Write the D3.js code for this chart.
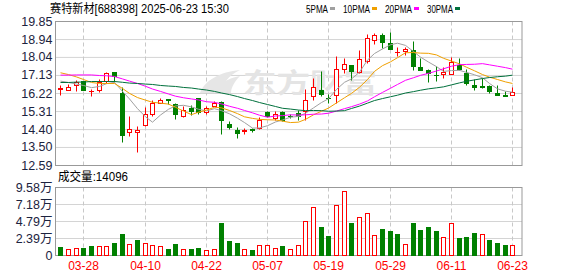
<!DOCTYPE html>
<html>
<head>
<meta charset="utf-8">
<script src="https://cdn.jsdelivr.net/npm/d3@7/dist/d3.min.js"></script>
<style>
body { margin: 0; background: #fff; }
svg text { font-family: "Liberation Sans", Arial, "Noto Sans CJK SC", sans-serif; }
</style>
</head>
<body>
<div id="chart"></div>
<script>
// data
const dates = ['03-25','03-26','03-27','03-28','03-31','04-01','04-02','04-03','04-07','04-08',
  '04-09','04-10','04-11','04-14','04-15','04-16','04-17','04-18','04-21','04-22',
  '04-23','04-24','04-25','04-28','04-29','04-30','05-06','05-07','05-08','05-09',
  '05-12','05-13','05-14','05-15','05-16','05-19','05-20','05-21','05-22','05-23',
  '05-26','05-27','05-28','05-29','05-30','06-03','06-04','06-05','06-06','06-09',
  '06-10','06-11','06-12','06-13','06-16','06-17','06-18','06-19','06-20','06-23']

const opens = [16.44,16.38,16.61,16.81,16.30,16.36,16.80,17.27,16.23,14.26,
  14.26,14.60,15.14,15.73,15.92,15.69,15.05,15.46,15.98,15.25,
  15.55,15.79,14.68,14.34,14.30,14.38,14.46,15.24,14.97,15.24,
  15.08,15.19,15.33,16.06,16.35,15.98,16.14,17.44,17.61,17.29,
  17.82,18.88,19.12,18.75,18.27,18.33,18.41,17.52,17.40,17.15,
  17.20,17.19,17.61,17.24,16.60,16.55,16.55,16.23,16.12,16.11]

const highs = [16.63,16.68,16.87,16.82,16.43,16.94,17.26,17.28,16.53,15.05,
  14.58,15.50,15.86,15.99,15.94,15.73,15.55,15.64,15.98,15.55,
  15.81,15.80,14.80,14.53,14.47,14.46,15.01,15.30,15.29,15.30,
  15.17,15.34,16.40,16.99,17.35,16.15,18.07,17.99,17.62,18.41,
  19.20,19.22,19.26,19.29,18.55,18.55,18.83,17.99,17.42,17.56,
  17.53,18.05,17.99,17.44,16.93,16.99,16.63,16.60,16.31,16.50]

const lows = [16.13,16.35,16.31,16.36,16.06,16.26,16.72,16.75,13.74,14.04,
  13.23,14.58,15.05,15.70,15.68,14.93,15.03,15.11,15.14,15.14,
  15.55,14.15,14.40,13.95,14.15,14.25,14.42,15.02,14.88,14.80,
  14.97,14.88,14.88,15.89,16.05,15.73,15.73,17.25,16.90,17.25,
  17.74,18.70,18.50,18.44,18.11,18.16,17.40,17.36,16.77,16.85,
  16.99,17.18,17.40,16.60,16.36,16.45,16.20,16.10,16.06,16.10]

const closes = [16.47,16.53,16.76,16.36,16.33,16.76,17.24,17.10,14.08,14.40,
  14.35,15.17,15.73,15.89,15.87,15.17,15.35,15.31,15.28,15.47,
  15.73,14.86,14.50,14.21,14.36,14.34,14.88,15.07,15.17,14.85,
  15.04,15.06,15.89,16.53,16.19,15.96,17.44,17.69,17.35,17.91,
  19.00,19.12,18.80,18.44,18.30,18.45,17.57,17.37,17.22,17.12,
  17.27,17.77,17.42,16.73,16.50,16.52,16.31,16.11,16.09,16.26]

const prevClose = 16.52  // close of the day before 03-25

const volumes = [11500,8700,10000,10500,12800,12800,12800,17500,30000,15700,
  21700,17000,13700,12800,9100,16000,8700,9100,10500,7700,
  8700,45500,20300,17500,8700,7700,14300,14300,10000,13300,
  8700,14300,47800,67400,39900,27300,70600,89800,44500,53400,
  59400,28200,37100,33300,30000,15700,45500,35700,39900,34300,
  25500,45500,24500,25900,31500,29700,21700,17500,14700,14096]

const ma5 = [16.82,16.75,16.67,16.60,16.49,16.55,16.69,16.76,16.30,15.92,
  15.43,15.02,14.75,15.11,15.40,15.57,15.60,15.52,15.40,15.32,
  15.43,15.33,15.17,14.95,14.73,14.45,14.46,14.57,14.76,14.86,
  15.00,15.04,15.20,15.47,15.74,15.93,16.40,16.76,16.93,17.27,
  17.88,18.21,18.44,18.65,18.73,18.62,18.31,18.03,17.78,17.55,
  17.31,17.35,17.36,17.26,17.14,16.99,16.70,16.43,16.31,16.26]

const ma10 = [17.24,17.15,17.03,16.90,16.75,16.70,16.70,16.70,16.45,16.20,
  15.99,15.86,15.75,15.71,15.66,15.50,15.31,15.13,15.25,15.36,
  15.50,15.47,15.34,15.18,15.02,14.94,14.89,14.87,14.86,14.80,
  14.73,14.75,14.89,15.12,15.30,15.46,15.72,15.98,16.20,16.51,
  16.90,17.31,17.60,17.79,18.00,18.25,18.26,18.23,18.22,18.14,
  17.97,17.83,17.69,17.52,17.34,17.15,17.02,16.90,16.78,16.70]

const ma20 = [17.12,17.12,17.13,17.13,17.13,17.10,17.09,17.05,16.93,16.82,
  16.70,16.56,16.42,16.30,16.17,16.06,15.98,15.92,15.87,15.78,
  15.75,15.67,15.55,15.45,15.34,15.22,15.10,15.00,15.06,15.08,
  15.12,15.11,15.12,15.15,15.16,15.20,15.31,15.43,15.53,15.66,
  15.82,16.03,16.25,16.46,16.65,16.86,16.99,17.11,17.21,17.33,
  17.44,17.57,17.65,17.66,17.67,17.70,17.64,17.57,17.50,17.42]

const ma30 = [16.75,16.75,16.77,16.77,16.80,16.80,16.80,16.80,16.76,16.72,
  16.70,16.67,16.65,16.60,16.57,16.55,16.50,16.47,16.42,16.37,
  16.30,16.22,16.14,16.04,15.94,15.84,15.74,15.64,15.54,15.45,
  15.41,15.36,15.33,15.34,15.33,15.30,15.31,15.33,15.44,15.56,
  15.71,15.84,15.94,16.03,16.11,16.22,16.29,16.36,16.43,16.48,
  16.53,16.63,16.73,16.81,16.88,16.95,17.00,17.04,17.07,17.12]

const priceTicks = [12.59, 13.50, 14.40, 15.31, 16.22, 17.13, 18.04, 18.94, 19.85]
const volTicks = [0, 23950, 47900, 71850, 95800]
const volTickLabels = ['0', '2.39万', '4.79万', '7.18万', '9.58万']
const dateTicks = ['03-28', '04-10', '04-22', '05-07', '05-19', '05-29', '06-11', '06-23']

const maNames = ['5PMA', '10PMA', '20PMA', '30PMA']
const maColors = ['#a0a0a0', '#f0a000', '#ff00ff', '#00703c']

// constants
const width = 578, height = 276
const left = 55.5, right = 522
const priceTop = 21, priceBottom = 165
const volTop = 187, volBottom = 255
const red = '#ff0000', green = '#008000'
const gridColor = '#d4d4d4', borderColor = '#999'
const labelColor = '#1c2340'

const svg = d3.select('#chart')
  .append('svg')
    .attr('width', width)
    .attr('height', height)

svg.append('rect').attr('width', width).attr('height', height).attr('fill', '#fff')

const x = d3.scaleBand()
  .domain(dates)
  .range([56.5, 516.1])
const cx = d => Math.round(x(d) + x.bandwidth() / 2) + 0.5

const y = d3.scaleLinear().domain([12.59, 19.85]).range([priceBottom, priceTop])
const vy = d3.scaleLinear().domain([0, 95800]).range([volBottom, volTop])

// horizontal grids with labels
function styleAxis(g) {
  g.select('.domain').remove()
  g.selectAll('.tick line').attr('stroke', gridColor)
  g.selectAll('.tick text')
    .attr('fill', labelColor)
    .style('font-size', '12.5px')
}

svg.append('g')
  .attr('transform', `translate(${left},0)`)
  .call(d3.axisLeft(y)
    .tickValues(priceTicks)
    .tickSize(-(right - left))
    .tickPadding(3)
    .tickFormat(d3.format('.2f')))
  .call(styleAxis)

svg.append('g')
  .attr('transform', `translate(${left},0)`)
  .call(d3.axisLeft(vy)
    .tickValues(volTicks)
    .tickSize(-(right - left))
    .tickPadding(3)
    .tickFormat((d, i) => volTickLabels[i]))
  .call(styleAxis)

// vertical dashed grid
for (const [top, bottom] of [[priceTop, priceBottom], [volTop, volBottom]]) {
  svg.append('g')
    .selectAll('line')
    .data(dateTicks)
    .join('line')
      .attr('x1', d => cx(d))
      .attr('x2', d => cx(d))
      .attr('y1', top + 0.5)
      .attr('y2', bottom + 0.5)
      .attr('stroke', '#c8c8c8')
      .attr('stroke-dasharray', '4,3')
}

// watermark
svg.append('text')
  .attr('x', 243)
  .attr('y', 93)
  .attr('textLength', 134)
  .attr('lengthAdjust', 'spacingAndGlyphs')
  .attr('fill', '#e4e4e4')
  .style('font-family', '"Noto Sans CJK SC", sans-serif')
  .style('font-size', '27px')
  .style('font-weight', 'bold')
  .text('东方财富')
svg.append('path')
  .attr('d', 'M200,93 C205,80 220,72 240,70 C228,76 222,84 221,93 Z M214,93 C218,84 228,78 240,76 C234,82 231,88 231,93 Z')
  .attr('fill', '#e6e6e6')

// panel borders
svg.append('rect')
  .attr('x', left).attr('y', priceTop + 0.5)
  .attr('width', right - left).attr('height', priceBottom - priceTop)
  .attr('fill', 'none').attr('stroke', borderColor)
svg.append('rect')
  .attr('x', left).attr('y', volTop + 0.5)
  .attr('width', right - left).attr('height', volBottom - volTop)
  .attr('fill', 'none').attr('stroke', borderColor)

// candles
const candles = dates.map((d, i) => ({
  date: d, o: opens[i], h: highs[i], l: lows[i], c: closes[i], v: volumes[i],
  volUp: closes[i] >= (i == 0 ? prevClose : closes[i - 1])
}))
const py = v => Math.round(y(v)) + 0.5

const candle = svg.append('g')
  .selectAll('g')
  .data(candles)
  .join('g')

candle.append('line')
  .attr('x1', d => cx(d.date))
  .attr('x2', d => cx(d.date))
  .attr('y1', d => py(d.h))
  .attr('y2', d => py(d.l))
  .attr('stroke', d => d.c >= d.o ? red : green)

candle.append('rect')
  .attr('x', d => cx(d.date) - 2)
  .attr('y', d => py(Math.max(d.o, d.c)))
  .attr('width', 4)
  .attr('height', d => Math.max(0.01, py(Math.min(d.o, d.c)) - py(Math.max(d.o, d.c))))
  .attr('fill', d => d.c >= d.o ? '#fff' : green)
  .attr('stroke', d => d.c >= d.o ? red : green)

// moving averages
const maSeries = [ma5, ma10, ma20, ma30]
maSeries.forEach((series, k) => {
  svg.append('path')
    .datum(series)
    .attr('d', d3.line()
      .x((d, i) => cx(dates[i]))
      .y(d => y(d)))
    .attr('fill', 'none')
    .attr('stroke', maColors[k])
    .attr('stroke-width', 1)
})

// volume bars
svg.append('g')
  .selectAll('rect')
  .data(candles)
  .join('rect')
    .attr('x', d => cx(d.date) - 2)
    .attr('y', d => Math.round(vy(d.v)) + 0.5)
    .attr('width', 4)
    .attr('height', d => volBottom - Math.round(vy(d.v)))
    .attr('fill', d => d.volUp ? '#fff' : green)
    .attr('stroke', d => d.volUp ? red : green)

// date labels
svg.append('g')
  .selectAll('text')
  .data(dateTicks)
  .join('text')
    .attr('x', d => cx(d))
    .attr('y', 270)
    .attr('text-anchor', 'middle')
    .attr('fill', red)
    .style('font-size', '12px')
    .text(d => d)

// title and legend
svg.append('text')
  .attr('x', 50)
  .attr('y', 12.5)
  .attr('textLength', 179)
  .attr('lengthAdjust', 'spacingAndGlyphs')
  .attr('fill', '#000')
  .style('font-size', '12px')
  .text('赛特新材[688398] 2025-06-23 15:30')

const legendX = [306, 343, 385, 427]
const legendW = [22, 27, 27, 26]
maNames.forEach((name, k) => {
  svg.append('text')
    .attr('x', legendX[k])
    .attr('y', 12.5)
    .attr('textLength', legendW[k])
    .attr('lengthAdjust', 'spacingAndGlyphs')
    .attr('fill', '#000')
    .style('font-size', '11px')
    .text(name)
  svg.append('rect')
    .attr('x', legendX[k] + legendW[k] + 2)
    .attr('y', 7)
    .attr('width', 5)
    .attr('height', 3)
    .attr('fill', maColors[k])
})

svg.append('text')
  .attr('x', 58)
  .attr('y', 181)
  .attr('textLength', 70)
  .attr('lengthAdjust', 'spacingAndGlyphs')
  .attr('fill', '#000')
  .style('font-size', '12.5px')
  .text('成交量:' + volumes[volumes.length - 1])
</script>
</body>
</html>
